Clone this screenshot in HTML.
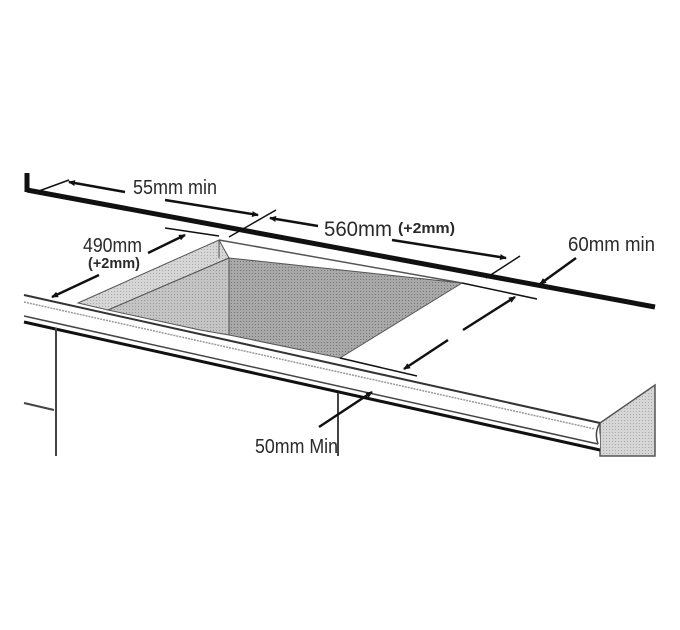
<!DOCTYPE html>
<html><head><meta charset="utf-8"><style>
html,body{margin:0;padding:0;background:#fff;}
svg{display:block;}
text{font-family:"Liberation Sans",sans-serif;fill:#2a2a2a;}
</style></head><body>
<svg width="680" height="630" viewBox="0 0 680 630" xmlns="http://www.w3.org/2000/svg">
<defs>
<marker id="a" markerWidth="8" markerHeight="8" refX="6" refY="4" orient="auto" markerUnits="userSpaceOnUse">
<path d="M0,1 L7,4 L0,7 z" fill="#111"/></marker>
<pattern id="d1" width="3" height="3" patternUnits="userSpaceOnUse"><rect width="3" height="3" fill="#d6d6d6"/><rect width="1" height="1" fill="#aaa"/></pattern>
<pattern id="d2" width="3" height="3" patternUnits="userSpaceOnUse"><rect width="3" height="3" fill="#a8a8a8"/><rect width="1" height="1" fill="#777"/></pattern>
<pattern id="d3" width="3" height="3" patternUnits="userSpaceOnUse"><rect width="3" height="3" fill="#c4c4c4"/><rect width="1" height="1" fill="#999"/></pattern>
</defs>
<polygon points="78,303 219,240 229,258 108,310" fill="url(#d1)" stroke="#555" stroke-width="1"/>
<polygon points="108,310 229,258 229,335 200,330" fill="url(#d3)" stroke="#555" stroke-width="1"/>
<polygon points="229,258 462,283 340,358 229,335" fill="url(#d2)" stroke="#555" stroke-width="1"/>
<line x1="219" y1="240" x2="462" y2="283" stroke="#555" stroke-width="1.5"/>
<line x1="219" y1="240" x2="219" y2="258" stroke="#555" stroke-width="1"/>
<line x1="27" y1="173" x2="27" y2="192" stroke="#111" stroke-width="5"/>
<line x1="27" y1="190" x2="655" y2="307" stroke="#111" stroke-width="5"/>
<polygon points="600,423 655,385 655,456 600,456" fill="url(#d1)" stroke="#555" stroke-width="1.5"/>
<path d="M24,295 L596,422 Q600,430 600,440 L600,450 L24,323 Z" fill="#fff"/>
<line x1="24" y1="295" x2="600" y2="423" stroke="#333" stroke-width="2"/>
<line x1="24" y1="302" x2="595" y2="429" stroke="#999" stroke-width="1.5" stroke-dasharray="2,1"/>
<line x1="24" y1="316" x2="598" y2="444" stroke="#444" stroke-width="1.5"/>
<line x1="24" y1="322" x2="600" y2="450" stroke="#111" stroke-width="3"/>
<path d="M600,423 Q594,432 598,444" fill="none" stroke="#444" stroke-width="1.5"/>
<line x1="56" y1="328" x2="56" y2="456" stroke="#444" stroke-width="2"/>
<line x1="338" y1="393" x2="338" y2="456" stroke="#444" stroke-width="2"/>
<line x1="24" y1="403" x2="54" y2="410" stroke="#444" stroke-width="2"/>
<g stroke="#111" stroke-width="2.5" fill="none">
<line x1="39" y1="191" x2="69" y2="180" stroke-width="1.5"/>
<line x1="125" y1="192" x2="69" y2="182" marker-end="url(#a)"/>
<line x1="165" y1="200" x2="258" y2="215" marker-end="url(#a)"/>
<line x1="276" y1="210" x2="229" y2="237" stroke-width="1.5"/>
<line x1="318" y1="226" x2="270" y2="218" marker-end="url(#a)"/>
<line x1="392" y1="240" x2="506" y2="258" marker-end="url(#a)"/>
<line x1="520" y1="256" x2="486" y2="278" stroke-width="1.5"/>
<line x1="576" y1="258" x2="540" y2="284" marker-end="url(#a)"/>
<line x1="165" y1="228" x2="219" y2="236" stroke-width="1.5"/>
<line x1="148" y1="253" x2="185" y2="235" marker-end="url(#a)"/>
<line x1="99" y1="275" x2="52" y2="297" marker-end="url(#a)"/>
<line x1="462" y1="283" x2="537" y2="299" stroke-width="1.5"/>
<line x1="463" y1="330" x2="515" y2="297" marker-end="url(#a)"/>
<line x1="448" y1="340" x2="404" y2="369" marker-end="url(#a)"/>
<line x1="340" y1="358" x2="417" y2="376" stroke-width="1.5"/>
<line x1="319" y1="427" x2="372" y2="392" marker-end="url(#a)"/>
</g>
<text x="133" y="194" font-size="20" textLength="84" lengthAdjust="spacingAndGlyphs">55mm min</text>
<text x="324" y="236" font-size="21" textLength="68" lengthAdjust="spacingAndGlyphs">560mm</text>
<text x="398" y="233" font-size="15" font-weight="bold" textLength="57" lengthAdjust="spacingAndGlyphs">(+2mm)</text>
<text x="568" y="251" font-size="20" textLength="87" lengthAdjust="spacingAndGlyphs">60mm min</text>
<text x="83" y="252" font-size="20" textLength="59" lengthAdjust="spacingAndGlyphs">490mm</text>
<text x="88" y="268" font-size="15" font-weight="bold" textLength="52" lengthAdjust="spacingAndGlyphs">(+2mm)</text>
<text x="255" y="453" font-size="20" textLength="83" lengthAdjust="spacingAndGlyphs">50mm Min</text>
</svg>
</body></html>
